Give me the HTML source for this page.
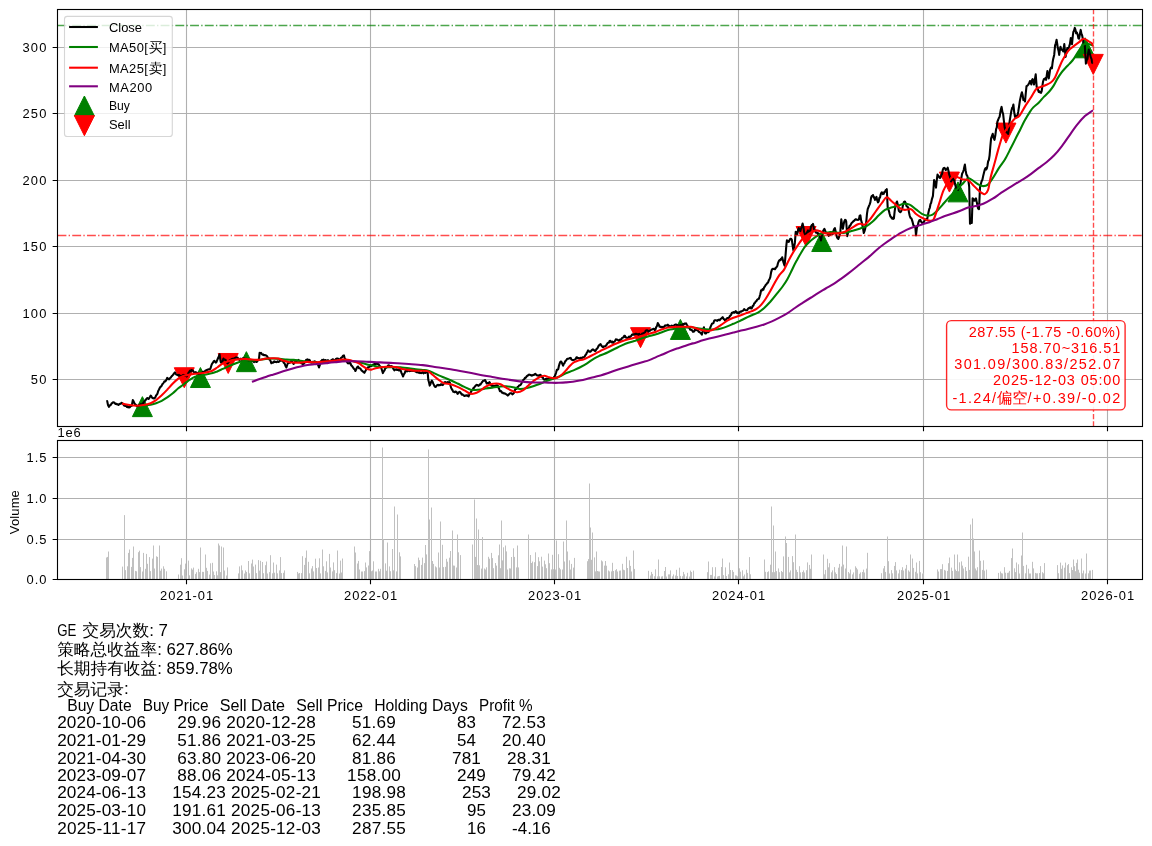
<!DOCTYPE html>
<html lang="zh"><head><meta charset="utf-8"><title>GE</title><style>html,body{margin:0;padding:0;background:#fff}svg{display:block}svg text{font-family:"Liberation Sans","WenQuanYi Zen Hei",sans-serif;white-space:pre}</style></head><body>
<svg width="1152" height="846" viewBox="0 0 1152 846">
<rect width="1152" height="846" fill="#fff"/>
<clipPath id="c1"><rect x="57.5" y="9.5" width="1085.0" height="417.0"/></clipPath>
<clipPath id="c2"><rect x="57.5" y="440.5" width="1085.0" height="139.0"/></clipPath>
<path d="M186.50 9.5V426.5M370.50 9.5V426.5M554.50 9.5V426.5M738.50 9.5V426.5M923.50 9.5V426.5M1107.50 9.5V426.5M57.5 379.50H1142.5M57.5 313.50H1142.5M57.5 246.50H1142.5M57.5 180.50H1142.5M57.5 113.50H1142.5M57.5 47.50H1142.5" stroke="#b0b0b0" stroke-width="1.11" fill="none"/>
<g clip-path="url(#c1)">
<path d="M142.39 396.63L132.39 416.63L152.39 416.63ZM200.43 367.53L190.43 387.53L210.43 387.53ZM246.36 351.67L236.36 371.67L256.36 371.67ZM680.40 319.43L670.40 339.43L690.40 339.43ZM821.72 231.52L811.72 251.52L831.72 251.52ZM957.99 181.86L947.99 201.86L967.99 201.86ZM1085.17 37.80L1075.17 57.80L1095.17 57.80Z" fill="#008000" stroke="#008000" stroke-width="1"/>
<path d="M184.28 387.75L174.28 367.75L194.28 367.75ZM228.19 373.47L218.19 353.47L238.19 353.47ZM640.53 347.67L630.53 327.67L650.53 327.67ZM806.07 246.51L796.07 226.51L816.07 226.51ZM949.41 192.07L939.41 172.07L959.41 172.07ZM1005.93 143.08L995.93 123.08L1015.93 123.08ZM1093.25 74.39L1083.25 54.39L1103.25 54.39Z" fill="#ff0000" stroke="#ff0000" stroke-width="1"/>
<path d="M106.4 401.5L107.2 401.1L108.0 405.0L108.9 406.8L109.6 405.8L110.3 404.9L111.0 404.7L111.7 403.2L112.4 403.0L113.1 402.2L113.8 402.5L114.4 402.6L115.1 403.6L115.8 404.0L116.5 403.7L117.2 404.4L117.9 404.3L118.6 405.0L119.3 404.0L120.0 403.9L120.7 403.8L121.4 402.9L122.1 403.0L122.8 403.7L123.5 404.7L124.2 405.6L124.9 405.7L125.6 406.0L126.3 406.1L127.0 407.0L127.6 406.2L128.3 407.4L129.0 407.0L129.7 407.5L130.4 406.5L131.1 405.9L131.8 405.7L132.8 400.1L133.7 401.6L134.6 403.6L135.3 404.8L136.0 404.9L136.7 406.1L137.4 406.0L138.1 405.8L138.8 405.3L139.4 405.3L140.1 404.5L140.8 404.2L141.5 404.2L142.2 404.3L142.9 403.6L143.6 402.5L144.3 401.5L145.0 400.8L145.7 400.0L146.4 398.9L147.1 398.1L147.8 398.3L148.5 399.0L149.2 398.2L149.9 397.0L150.6 395.7L151.3 396.2L151.9 397.4L152.6 398.1L153.3 398.1L154.0 398.5L154.7 398.1L155.4 397.2L156.1 395.5L156.8 394.6L157.5 393.6L158.2 390.9L158.9 389.7L159.6 388.2L160.3 386.9L161.0 386.6L161.7 385.6L162.4 384.1L163.1 383.5L163.8 382.5L164.5 381.3L165.1 381.5L165.8 380.7L166.5 379.6L167.2 377.9L167.9 378.5L168.6 379.3L169.3 379.3L170.0 378.1L170.7 377.7L171.4 376.5L172.1 375.9L172.8 375.1L173.5 374.3L174.2 373.2L174.9 372.4L175.6 373.6L176.2 374.5L176.9 374.7L177.6 374.9L178.3 375.5L179.0 374.9L179.7 375.8L180.4 376.0L181.1 375.8L181.8 376.1L182.5 375.8L183.2 374.9L183.9 375.1L184.6 375.3L185.3 376.0L186.0 375.5L186.7 376.5L187.4 375.2L188.1 373.7L188.7 372.4L189.4 371.7L190.1 370.7L190.8 371.4L191.5 370.1L192.2 370.3L192.9 370.7L193.6 371.6L194.3 372.4L195.0 373.0L195.7 372.1L196.4 372.7L197.1 372.9L197.8 373.0L198.5 373.9L199.2 374.1L199.9 374.5L200.6 374.4L201.3 373.4L201.9 372.9L202.6 372.2L203.3 371.7L204.0 372.0L204.7 371.8L205.4 370.5L206.1 370.7L206.8 370.0L207.5 369.7L208.2 369.4L208.9 369.5L209.6 369.3L210.3 368.9L211.0 366.7L211.7 364.5L212.4 363.3L213.1 362.4L213.7 361.4L214.4 360.8L215.1 361.8L215.8 362.6L216.5 361.9L217.2 360.1L217.9 358.5L218.8 356.4L219.6 354.3L220.1 358.3L220.7 361.9L221.4 362.9L222.1 363.3L222.8 360.3L223.5 358.5L224.2 359.5L224.9 359.8L225.6 359.9L226.3 361.6L226.9 362.6L227.6 363.3L228.3 362.3L229.0 361.5L229.7 360.2L230.4 359.9L231.1 359.9L231.8 358.9L232.5 358.7L233.2 358.7L233.9 358.9L234.6 358.1L235.3 358.1L236.0 357.4L236.7 357.8L237.4 357.6L238.1 358.3L238.7 358.8L239.4 359.9L240.1 359.5L240.8 358.7L241.5 359.7L242.2 359.1L242.9 358.2L243.6 358.5L244.3 358.4L245.0 358.7L245.7 359.0L246.4 358.9L247.1 360.2L247.8 359.9L248.5 360.8L249.2 360.3L249.9 360.6L250.5 360.2L251.2 360.5L251.9 361.3L252.6 361.2L253.3 361.2L254.0 362.1L254.7 361.2L255.4 361.1L256.1 361.9L256.8 362.0L257.5 360.9L258.2 359.9L258.9 359.9L259.6 352.9L260.3 353.2L261.0 352.8L261.7 353.8L262.4 354.7L263.1 354.3L263.8 355.2L264.5 355.3L265.1 355.0L265.8 355.5L266.5 355.6L267.2 356.4L267.9 357.7L268.6 358.2L269.3 359.4L270.0 359.9L270.7 361.4L271.4 363.3L272.1 362.4L272.8 362.7L273.5 362.5L274.2 361.3L274.9 361.9L275.6 361.9L276.2 362.1L276.9 362.0L277.6 361.4L278.3 361.9L279.0 361.7L279.7 361.2L280.4 360.4L281.1 360.2L281.8 360.6L282.5 361.0L283.2 361.6L283.9 362.9L284.6 363.3L285.5 366.0L286.4 367.5L287.2 365.0L288.1 362.6L288.8 363.0L289.5 362.8L290.1 362.5L290.8 361.4L291.5 361.3L292.2 361.8L292.9 362.7L293.6 364.0L294.3 362.7L295.0 361.9L295.7 361.6L296.4 360.6L297.1 360.9L297.8 360.6L298.5 359.9L299.2 360.8L299.9 361.9L300.6 362.6L301.3 363.4L302.0 362.7L302.6 363.9L303.3 364.0L304.0 363.6L304.7 362.4L305.4 361.3L306.1 359.9L306.8 359.9L307.5 359.4L308.2 360.3L308.9 359.7L309.6 359.9L310.3 361.2L311.0 362.4L311.7 362.6L312.4 362.1L313.0 361.8L313.7 362.3L314.4 361.3L315.1 362.1L315.8 361.8L316.5 362.3L317.2 363.3L318.1 364.9L319.0 367.5L319.9 365.0L320.7 361.3L321.4 361.3L322.1 359.9L322.8 360.5L323.5 359.6L324.2 360.5L324.9 360.2L325.5 360.0L326.2 360.5L326.9 360.6L327.6 360.2L328.3 360.3L329.0 361.8L329.7 361.3L330.4 361.0L331.1 360.4L331.8 360.5L332.5 359.4L333.2 359.4L333.9 360.2L334.6 360.2L335.3 359.9L336.0 359.0L336.7 358.6L337.4 358.5L338.1 358.7L338.7 359.1L339.4 359.9L340.1 359.3L340.8 358.2L341.5 357.7L342.2 357.1L343.0 355.7L343.9 355.4L344.6 357.9L345.3 359.2L346.1 360.4L347.0 361.9L347.8 363.3L348.5 363.2L349.2 363.4L349.9 362.6L350.6 363.5L351.2 365.3L351.9 365.8L352.6 366.8L353.3 367.9L354.0 368.9L354.7 369.3L355.4 371.0L356.1 369.5L356.8 367.8L357.5 366.8L358.2 366.6L358.9 368.1L359.6 368.2L360.3 368.4L361.0 369.6L361.7 370.6L362.4 371.0L363.1 371.7L363.7 372.0L364.4 372.8L365.1 371.5L365.8 370.3L366.5 368.9L367.2 368.8L367.9 367.3L368.6 367.4L369.3 366.8L370.0 366.1L370.7 365.8L371.4 366.1L372.1 365.4L372.8 364.9L373.5 364.4L374.2 364.2L374.9 363.3L375.6 364.0L376.3 363.5L376.9 363.9L377.6 363.9L378.3 364.0L379.0 364.9L379.7 366.0L380.4 366.6L381.1 367.5L382.0 370.3L382.9 373.1L383.7 371.4L384.5 370.4L385.3 368.2L386.0 367.8L386.7 367.3L387.4 366.7L388.1 365.4L388.8 365.2L389.5 365.8L390.1 366.4L390.8 366.4L391.5 366.1L392.2 366.6L392.9 367.7L393.6 369.2L394.3 370.3L395.0 369.6L395.7 369.7L396.4 369.3L397.1 370.0L397.8 369.6L398.5 370.2L399.2 370.5L399.9 369.7L400.6 370.3L401.4 372.7L402.3 374.6L403.1 376.5L403.9 374.2L404.6 373.4L405.4 371.0L406.1 371.5L406.8 370.4L407.5 371.3L408.2 370.5L408.9 370.5L409.6 371.1L410.3 370.3L411.0 370.9L411.7 370.2L412.4 370.7L413.1 371.0L413.7 371.0L414.4 370.9L415.1 371.3L415.8 371.7L416.5 372.2L417.2 371.5L417.9 372.5L418.6 372.6L419.3 372.2L420.0 373.1L420.7 372.8L421.4 373.1L422.1 372.8L422.8 372.1L423.5 373.3L424.2 372.9L424.9 372.4L425.6 372.9L426.2 371.5L426.9 371.6L427.6 371.7L428.3 380.0L429.0 382.2L429.7 385.6L430.4 384.3L431.1 382.0L431.8 380.7L432.5 381.6L433.2 383.4L433.9 384.9L434.6 386.4L435.3 386.9L436.0 386.8L436.7 385.6L437.4 385.0L438.1 384.9L438.8 385.4L439.5 385.0L440.2 385.2L440.8 384.4L441.5 384.3L442.2 385.1L442.9 384.9L443.6 383.9L444.3 382.5L445.0 382.1L445.7 382.8L446.4 382.5L447.1 382.8L447.8 382.0L448.5 383.1L449.2 382.1L449.9 382.8L450.6 386.0L451.3 388.3L452.0 389.4L452.6 390.4L453.3 391.8L454.0 391.9L454.7 392.3L455.4 391.5L456.1 391.8L456.8 392.4L457.5 393.9L458.2 393.2L458.9 392.2L459.6 391.8L460.3 392.3L461.0 393.3L461.7 394.6L462.4 394.4L463.0 394.9L463.7 395.4L464.4 396.0L465.1 395.5L465.8 395.8L466.5 395.3L467.2 395.4L467.9 396.0L468.6 396.4L469.3 394.7L470.0 393.6L470.7 392.5L471.4 391.0L472.1 390.3L472.8 389.7L473.5 388.0L474.2 387.7L474.9 386.3L475.6 385.9L476.2 385.0L476.9 384.9L477.6 385.1L478.3 385.9L479.0 385.6L479.7 384.4L480.4 384.6L481.1 383.5L481.8 382.5L482.5 381.6L483.2 380.7L484.1 380.8L485.0 380.0L485.9 381.6L486.7 383.5L487.4 383.2L488.0 383.0L488.7 383.1L489.4 382.1L490.1 383.1L490.8 384.9L491.5 385.6L492.2 386.0L492.9 386.1L493.6 386.0L494.3 386.3L495.0 386.0L495.7 385.5L496.4 385.4L497.1 385.2L497.8 385.6L498.5 387.7L499.2 389.0L499.9 391.1L500.6 391.0L501.2 391.3L501.9 392.6L502.6 392.5L503.3 393.3L504.0 393.4L504.7 393.3L505.4 393.9L506.2 394.2L507.0 394.8L507.8 395.6L508.6 394.8L509.5 393.6L510.3 393.2L511.0 393.3L511.7 393.3L512.4 394.3L513.1 393.9L513.8 393.1L514.4 391.2L515.1 389.7L515.8 388.7L516.5 388.9L517.2 387.4L517.9 386.9L518.6 386.2L519.3 385.3L520.0 385.2L520.7 384.9L521.4 383.5L522.1 382.1L522.8 380.7L523.5 379.6L524.2 379.3L524.9 377.9L525.6 377.9L526.3 376.9L527.0 376.0L527.6 375.7L528.3 375.1L529.0 374.6L529.7 374.7L530.4 375.1L531.1 375.1L531.8 375.6L532.5 375.4L533.2 374.9L533.9 374.9L534.6 374.4L535.3 373.8L536.0 374.6L536.7 375.3L537.4 375.2L538.1 375.8L538.8 375.4L539.5 376.1L540.1 374.8L540.8 375.1L541.5 376.4L542.2 377.4L542.9 377.6L543.6 379.3L544.3 379.6L545.0 379.5L545.7 378.9L546.4 378.6L547.1 379.0L547.8 379.2L548.5 378.4L549.2 378.9L549.9 378.8L550.6 378.7L551.2 379.0L551.9 378.8L552.6 378.7L553.3 378.2L554.0 377.1L554.7 376.4L555.4 374.7L556.1 372.5L556.8 369.9L557.5 369.8L558.2 369.2L558.9 366.0L559.6 363.6L560.3 361.9L561.0 361.5L561.7 362.4L562.4 364.1L563.1 365.7L563.8 363.7L564.4 363.4L565.1 361.5L565.8 360.7L566.5 359.9L567.2 358.8L567.9 358.8L568.6 358.7L569.3 358.3L570.0 358.1L570.7 357.9L571.4 359.5L572.1 360.0L572.8 360.1L573.5 359.9L574.2 359.7L574.9 359.4L575.7 359.0L576.4 357.4L577.2 357.4L578.0 358.2L578.9 358.0L579.7 358.8L580.4 357.9L581.1 357.9L581.8 358.3L582.5 357.3L583.2 357.4L583.9 357.1L584.6 356.7L585.3 355.3L586.0 354.6L586.7 353.0L587.4 351.8L588.1 350.4L588.8 351.1L589.4 351.7L590.1 351.8L590.8 351.3L591.5 350.6L592.2 349.7L592.9 349.4L593.6 349.9L594.3 350.4L595.0 351.1L595.7 350.6L596.4 349.1L597.1 348.6L597.8 347.6L598.5 346.0L599.2 345.2L599.9 344.7L600.6 344.2L601.3 345.4L601.9 346.3L602.6 346.9L603.3 347.0L604.0 346.3L604.7 346.5L605.4 346.3L606.1 345.4L606.8 344.5L607.5 343.1L608.2 342.8L608.9 342.7L609.6 340.9L610.3 340.7L611.0 342.0L611.7 342.4L612.4 341.5L613.1 342.8L613.8 341.9L614.5 341.6L615.1 340.9L615.8 339.3L616.5 339.6L617.2 339.6L617.9 339.9L618.6 340.7L619.3 341.1L620.0 339.5L620.7 339.8L621.4 339.3L622.1 337.9L622.8 337.6L623.5 337.4L624.2 335.8L624.9 335.7L625.5 337.4L626.2 337.4L626.9 337.9L627.6 338.2L628.3 337.7L629.0 336.6L629.7 337.4L630.4 336.5L631.1 336.1L631.8 334.9L632.5 334.4L633.2 334.8L633.9 334.4L634.6 334.3L635.3 334.0L636.0 333.7L636.7 334.0L637.4 334.2L638.1 334.1L638.8 335.1L639.4 333.9L640.1 335.3L640.8 335.1L641.5 335.1L642.2 333.5L642.9 334.3L643.6 333.1L644.3 332.7L645.0 332.4L645.7 330.7L646.4 330.3L647.1 330.3L647.8 330.5L648.5 331.6L649.2 331.0L649.9 330.8L650.5 330.1L651.2 329.8L651.9 329.6L652.6 329.2L653.3 328.9L654.0 328.9L654.7 330.1L655.4 329.6L656.2 327.1L657.0 326.0L657.8 323.1L658.7 324.5L659.6 326.8L660.3 326.6L661.0 327.2L661.7 326.8L662.4 327.5L663.1 326.8L663.8 327.2L664.4 326.6L665.1 325.4L665.8 325.7L666.5 325.3L667.2 325.6L667.9 324.7L668.6 326.0L669.3 325.8L670.0 326.6L670.7 326.8L671.4 325.7L672.1 326.5L672.8 325.7L673.5 325.8L674.2 325.3L674.9 324.7L675.6 324.6L676.3 324.5L676.9 326.3L677.6 325.2L678.3 326.1L679.0 325.8L679.7 325.4L680.4 325.1L681.1 325.6L681.8 325.7L682.5 324.7L683.2 324.0L683.9 324.4L684.6 323.5L685.3 323.7L686.0 323.3L686.7 324.5L687.4 325.5L688.1 327.5L688.8 327.5L689.5 328.1L690.1 329.7L690.8 329.6L691.5 330.1L692.2 330.2L692.9 331.8L693.6 331.7L694.3 331.4L695.0 329.5L695.8 329.9L696.5 329.8L697.3 330.4L698.0 330.7L698.8 331.8L699.6 332.2L700.3 332.5L701.1 333.5L701.9 334.6L702.6 331.7L703.2 329.8L703.9 327.2L704.5 330.9L705.0 333.4L705.8 333.5L706.5 332.6L707.3 332.3L708.0 332.2L708.8 331.8L709.6 329.6L710.3 327.5L711.1 325.7L711.9 323.9L712.7 323.2L713.4 323.3L714.2 320.7L715.0 320.3L715.8 320.3L716.5 320.5L717.3 320.9L718.1 319.8L718.8 319.9L719.6 320.3L720.4 319.1L721.2 318.6L721.9 317.9L722.7 317.2L723.5 318.8L724.2 319.3L725.0 320.2L725.7 320.3L726.5 318.7L727.3 318.0L728.0 318.4L728.8 317.9L729.6 316.5L730.4 315.5L731.2 314.7L731.9 312.7L732.7 312.6L733.5 312.0L734.2 312.6L735.0 312.0L735.7 311.1L736.5 312.3L737.2 313.1L738.0 312.4L738.8 313.4L739.6 312.1L740.3 311.6L741.1 311.7L741.9 311.1L742.7 310.8L743.4 310.6L744.2 309.1L745.0 309.9L745.7 310.2L746.5 310.3L747.3 310.0L748.0 308.7L748.8 308.0L749.6 308.1L750.3 307.2L751.1 308.5L751.9 308.0L752.7 306.0L753.4 305.7L754.2 303.4L755.0 302.9L755.7 301.5L756.5 301.1L757.3 299.6L758.0 299.1L758.8 298.8L759.5 296.8L760.3 294.2L761.1 290.3L761.9 290.4L762.6 289.1L763.4 289.6L764.2 287.2L764.9 286.5L765.7 284.9L766.5 284.3L767.2 283.1L768.0 282.6L768.8 280.3L769.5 279.2L770.3 277.2L771.1 272.4L771.9 269.6L772.7 268.9L773.4 269.0L774.2 268.8L775.0 269.2L775.7 268.1L776.5 267.3L777.3 266.0L778.0 263.1L778.8 261.1L779.5 260.1L780.3 260.3L780.9 258.8L781.6 259.3L782.2 257.3L783.1 261.1L783.9 263.8L784.6 265.7L785.2 259.1L785.7 253.4L786.3 245.9L786.9 240.4L787.5 240.9L788.2 241.8L788.8 241.9L789.5 240.2L790.3 238.8L791.0 238.7L791.8 239.6L792.6 245.4L793.4 250.4L794.1 247.5L794.9 242.7L795.7 231.9L796.5 232.4L797.2 234.2L798.0 230.1L798.8 228.1L799.5 229.2L800.3 231.1L801.1 228.4L801.8 226.5L802.6 223.5L803.4 227.0L804.1 231.9L804.9 234.1L805.7 235.0L806.5 234.0L807.2 231.9L808.0 230.4L808.8 231.2L809.5 233.4L810.2 231.0L811.0 226.5L811.7 225.2L812.3 225.5L813.0 223.9L813.5 226.1L814.1 229.6L814.9 230.0L815.6 232.3L816.4 232.7L817.2 232.5L817.9 234.2L818.7 233.4L819.5 235.7L820.2 237.4L821.0 240.4L821.8 235.5L822.6 231.9L823.5 230.2L824.4 228.8L825.1 230.5L825.7 232.4L826.4 232.7L827.2 232.9L827.9 234.5L828.7 235.8L829.5 234.1L830.2 234.8L831.0 232.7L831.8 232.6L832.6 234.2L833.4 231.1L834.1 229.1L834.9 228.1L835.6 231.3L836.4 235.0L837.0 237.2L837.7 238.4L838.3 238.8L839.0 237.0L839.6 235.3L840.3 231.9L841.3 219.3L842.1 225.1L842.9 228.8L843.6 224.6L844.4 221.1L845.0 219.9L845.6 220.0L846.2 221.5L846.8 229.8L847.3 236.1L848.0 232.8L848.8 228.4L849.6 225.8L850.3 225.7L851.1 223.8L851.9 222.7L852.7 222.0L853.4 221.1L854.2 220.7L855.0 219.8L855.8 219.2L856.5 219.7L857.3 219.7L858.1 219.9L858.9 219.5L859.6 215.9L860.4 215.3L861.1 220.3L861.9 223.0L862.5 225.7L863.2 229.3L863.8 233.0L864.4 231.4L865.1 229.1L865.7 226.1L866.4 220.3L867.0 213.7L867.7 209.2L868.3 207.6L869.0 205.8L869.6 204.6L870.4 202.1L871.1 197.6L871.7 196.0L872.4 195.5L873.0 195.0L873.7 197.6L874.3 197.1L875.0 199.9L875.8 198.2L876.5 196.9L877.2 200.4L878.0 202.3L878.7 201.4L879.3 198.0L880.0 197.6L880.6 194.7L881.3 193.0L881.9 192.3L882.8 194.1L883.7 193.8L884.4 191.9L885.0 191.9L885.7 190.0L886.2 190.6L886.8 189.2L887.7 207.6L888.3 209.3L889.0 211.2L889.6 213.8L890.4 216.4L891.1 217.1L891.9 218.4L892.6 217.8L893.2 218.9L893.9 218.4L894.6 211.8L895.4 206.1L896.2 203.2L897.0 201.5L897.9 204.9L898.8 210.7L899.6 211.6L900.3 212.2L901.1 211.5L901.8 209.5L902.4 208.0L903.1 204.6L904.0 201.9L904.9 201.5L905.7 203.1L906.5 206.1L907.4 206.8L908.3 207.6L909.0 212.6L909.6 215.3L910.5 217.9L911.4 218.4L912.1 220.4L912.7 222.4L913.4 225.3L914.1 225.9L914.7 226.8L915.4 227.6L916.0 235.3L916.9 227.6L917.7 225.9L918.5 222.2L919.4 220.3L920.3 219.9L921.1 221.6L921.8 222.5L922.6 223.0L923.4 222.7L924.1 221.6L924.9 219.9L925.7 219.9L926.4 219.0L927.2 219.2L927.9 215.4L928.5 212.2L929.2 209.2L929.8 207.8L930.5 204.0L931.1 203.0L932.0 198.8L932.9 196.1L933.5 188.7L934.1 180.0L934.7 181.9L935.4 183.9L936.0 187.6L936.8 179.9L937.5 174.6L938.2 175.8L938.8 176.2L939.5 177.7L940.2 177.9L940.8 176.7L941.5 174.6L942.1 173.8L942.8 169.8L943.4 168.4L944.2 167.8L944.9 168.4L945.7 170.0L946.4 169.2L947.0 169.0L947.7 167.7L948.5 171.0L949.2 174.6L949.8 176.2L950.5 179.0L951.1 181.5L951.9 179.9L952.6 177.7L953.5 179.7L954.4 180.7L955.2 184.8L956.0 187.6L956.7 189.3L957.3 189.6L958.0 190.0L958.8 187.2L959.5 187.3L960.3 184.6L961.2 178.7L962.1 173.8L962.9 172.1L963.7 170.0L964.3 167.0L964.9 164.6L965.6 170.2L966.4 174.6L967.2 175.7L968.0 178.4L968.6 182.0L969.2 186.9L970.0 223.8L970.9 222.8L971.8 223.0L972.6 198.4L973.5 198.7L974.4 200.7L975.2 200.5L976.0 198.4L976.7 201.9L977.3 204.6L978.0 208.4L979.0 209.2L980.0 187.6L980.8 184.3L981.5 181.5L982.4 179.8L983.3 175.4L984.1 172.3L984.9 169.2L985.5 168.2L986.2 169.5L986.8 168.4L987.5 165.4L988.1 161.5L988.9 159.8L989.6 155.3L990.4 145.7L991.1 138.4L991.9 136.0L992.7 133.8L993.6 137.8L994.5 139.9L995.3 135.6L996.1 129.2L996.8 127.4L997.4 121.7L998.1 120.0L998.9 117.8L999.6 116.9L1000.3 112.4L1000.9 109.3L1001.6 106.9L1002.4 111.8L1003.1 113.8L1003.9 121.0L1004.7 127.6L1005.6 131.2L1006.5 132.3L1007.3 132.7L1008.1 133.8L1008.9 128.7L1009.6 121.5L1010.5 115.9L1011.4 110.7L1012.1 107.9L1012.7 107.5L1013.4 104.6L1014.2 112.1L1015.0 116.9L1015.8 115.7L1016.5 117.2L1017.3 116.9L1018.2 111.9L1019.1 106.1L1019.9 100.6L1020.7 96.9L1021.3 94.2L1021.9 92.3L1022.6 95.0L1023.4 100.0L1024.2 99.8L1025.0 101.5L1025.8 93.0L1026.5 86.1L1027.4 85.7L1028.3 84.6L1029.1 83.3L1029.9 81.1L1030.6 81.8L1031.3 84.5L1031.9 80.2L1032.6 79.1L1033.3 81.2L1034.0 84.5L1034.8 80.0L1035.7 74.4L1036.7 87.2L1037.4 87.7L1038.0 89.7L1038.7 91.9L1039.5 91.3L1040.3 92.6L1041.0 92.9L1041.7 91.2L1042.3 86.7L1043.0 81.8L1043.9 79.0L1044.8 79.1L1045.4 78.1L1046.1 79.8L1046.8 75.1L1047.4 71.0L1048.1 74.9L1048.8 78.4L1049.4 74.5L1050.1 69.7L1051.0 67.6L1051.9 68.3L1052.6 62.5L1053.2 58.9L1054.2 54.9L1055.1 45.4L1055.8 43.3L1056.6 39.8L1057.2 43.6L1057.8 48.1L1058.5 50.7L1059.2 54.9L1059.8 50.2L1060.5 46.8L1061.2 49.7L1061.9 49.5L1062.6 49.8L1063.2 51.5L1063.8 48.0L1064.3 44.1L1064.9 50.0L1065.6 56.9L1066.4 52.2L1067.3 48.1L1068.2 48.7L1069.0 46.8L1069.9 44.2L1070.8 38.0L1071.4 40.6L1072.0 44.1L1072.7 37.0L1073.3 32.0L1074.0 30.8L1074.8 27.9L1075.4 29.5L1076.1 33.3L1076.9 32.5L1077.8 35.3L1078.4 38.4L1079.1 38.7L1079.9 34.0L1080.7 29.9L1081.4 33.8L1082.1 35.3L1082.8 38.7L1083.4 42.7L1084.1 45.4L1084.8 45.4L1085.3 54.4L1085.9 63.6L1086.7 60.1L1087.5 58.9L1088.2 52.5L1088.8 49.5L1089.5 52.4L1090.2 54.9L1090.8 57.4L1091.5 58.9L1092.2 62.7L1092.9 63.6" stroke="#000" fill="none" stroke-width="2.08" stroke-linejoin="round" stroke-linecap="butt"/>
<path d="M142.9 405.7C144.2 405.5 148.4 405.1 150.6 404.7C152.8 404.3 154.2 403.8 156.1 403.2C157.9 402.6 159.8 401.8 161.7 400.8C163.5 399.8 165.3 398.7 167.2 397.4C169.0 396.1 171.0 394.7 172.8 393.2C174.7 391.7 176.5 389.8 178.3 388.3C180.2 386.8 182.1 385.6 183.9 384.2C185.8 382.8 187.6 381.2 189.4 380.0C191.2 378.8 193.1 377.5 195.0 376.8C196.9 376.1 198.8 376.0 200.6 375.6C202.4 375.2 204.2 374.8 206.1 374.4C207.9 374.0 209.8 373.8 211.7 373.3C213.5 372.8 215.3 372.1 217.2 371.4C219.0 370.7 221.0 369.7 222.8 368.9C224.7 368.1 226.5 367.2 228.3 366.4C230.2 365.6 232.1 364.8 233.9 364.0C235.8 363.2 237.6 362.4 239.4 361.9C241.2 361.4 242.9 361.0 245.0 360.8C247.1 360.6 249.6 360.8 251.9 360.6C254.2 360.5 256.6 360.2 258.9 359.9C261.2 359.6 263.5 359.1 265.8 358.9C268.1 358.7 270.5 358.5 272.8 358.5C275.1 358.5 277.4 358.7 279.7 358.9C282.0 359.1 284.4 359.4 286.7 359.6C289.0 359.8 291.3 359.7 293.6 359.9C295.9 360.1 298.3 360.5 300.6 360.8C302.9 361.1 305.2 361.6 307.5 361.9C309.8 362.2 312.1 362.3 314.4 362.4C316.7 362.5 319.1 362.5 321.4 362.4C323.7 362.3 326.0 362.1 328.3 361.9C330.6 361.7 333.0 361.5 335.3 361.3C337.6 361.1 339.9 360.9 342.2 360.8C344.5 360.7 346.9 360.7 349.2 360.8C351.5 360.9 353.8 361.3 356.1 361.7C358.4 362.1 360.8 362.7 363.1 363.3C365.4 363.9 367.7 364.6 370.0 365.1C372.3 365.6 374.6 366.0 376.9 366.4C379.2 366.8 381.6 367.1 383.9 367.2C386.2 367.3 388.5 367.2 390.8 367.2C393.1 367.2 396.0 367.1 397.8 367.2C399.6 367.2 400.0 367.3 401.9 367.5C403.8 367.7 406.6 367.9 408.9 368.2C411.2 368.5 413.5 369.0 415.8 369.3C418.1 369.6 420.7 369.8 422.8 370.0C424.9 370.2 426.5 370.2 428.3 370.7C430.1 371.2 432.0 372.3 433.9 373.1C435.8 373.9 437.5 374.8 439.4 375.6C441.2 376.4 443.1 377.1 445.0 377.9C446.9 378.7 448.5 379.4 450.6 380.3C452.7 381.2 455.2 382.4 457.5 383.5C459.8 384.6 462.2 385.9 464.4 386.9C466.6 387.9 468.4 389.2 470.7 389.7C473.0 390.2 475.9 389.9 478.3 389.7C480.7 389.5 483.0 389.0 485.3 388.6C487.6 388.2 489.9 387.9 492.2 387.6C494.5 387.3 496.9 386.9 499.2 386.7C501.5 386.5 503.8 386.2 506.1 386.3C508.4 386.4 510.8 386.8 513.1 387.2C515.4 387.6 517.7 388.9 520.0 389.0C522.3 389.1 524.6 388.6 526.9 388.1C529.2 387.6 531.6 386.8 533.9 386.0C536.2 385.2 538.9 384.2 540.8 383.5C542.6 382.8 543.6 382.1 545.0 381.5C546.4 380.9 547.7 380.5 549.2 380.0C550.7 379.5 552.4 379.1 554.0 378.6C555.6 378.1 556.9 377.7 558.9 376.8C560.9 375.9 563.5 374.3 565.8 373.3C568.1 372.3 570.5 371.6 572.8 370.6C575.1 369.6 577.4 368.7 579.7 367.5C582.0 366.3 584.4 365.1 586.7 363.6C589.0 362.2 591.3 360.2 593.6 358.8C595.9 357.4 598.3 356.4 600.6 355.3C602.9 354.2 605.2 353.6 607.5 352.5C609.8 351.4 612.1 350.1 614.4 349.0C616.7 347.9 619.1 346.6 621.4 345.6C623.7 344.6 626.0 343.6 628.3 342.8C630.6 342.0 633.0 341.4 635.3 340.7C637.6 339.9 639.9 339.1 642.2 338.3C644.5 337.5 646.9 336.8 649.2 336.1C651.5 335.4 653.8 334.9 656.1 334.2C658.4 333.5 660.8 332.5 663.1 331.7C665.4 330.9 667.7 330.1 670.0 329.6C672.3 329.1 674.6 328.9 676.9 328.6C679.2 328.3 681.6 328.0 683.9 327.8C686.2 327.6 688.9 327.2 690.8 327.2C692.6 327.2 693.3 327.6 695.0 327.8C696.7 328.1 698.8 328.4 701.1 328.7C703.4 329.0 706.5 329.4 708.8 329.5C711.1 329.6 713.0 329.7 715.0 329.5C717.0 329.3 719.1 328.9 721.1 328.4C723.1 327.9 725.2 327.2 727.3 326.4C729.3 325.6 731.3 324.7 733.4 323.8C735.5 322.9 737.5 322.1 739.6 321.1C741.7 320.1 743.7 319.0 745.7 318.0C747.8 317.0 749.9 316.1 751.9 315.2C753.9 314.3 756.0 313.8 758.0 312.6C760.0 311.4 762.2 309.8 764.2 308.0C766.2 306.2 768.2 304.1 770.3 301.8C772.3 299.5 774.5 296.8 776.5 294.2C778.5 291.6 780.8 288.9 782.6 286.5C784.4 284.1 785.7 282.3 787.2 279.6C788.7 276.9 790.3 273.4 791.8 270.3C793.3 267.2 794.8 264.0 796.4 261.1C798.0 258.2 799.5 255.3 801.1 252.7C802.7 250.1 804.2 247.6 805.7 245.7C807.2 243.8 808.8 242.5 810.3 241.1C811.8 239.7 813.4 238.4 814.9 237.3C816.4 236.2 818.0 235.4 819.5 234.7C821.0 234.0 822.6 233.5 824.1 233.1C825.6 232.7 827.2 232.3 828.7 232.2C830.2 232.0 831.5 232.1 833.3 232.2C835.1 232.3 837.5 232.6 839.5 232.7C841.5 232.8 842.8 233.1 845.0 232.8C847.2 232.5 850.1 231.4 852.7 230.7C855.3 230.0 858.1 229.2 860.4 228.4C862.7 227.6 864.5 227.2 866.5 226.1C868.5 224.9 870.7 223.3 872.7 221.5C874.8 219.7 876.8 217.2 878.8 215.3C880.8 213.4 883.0 211.2 885.0 209.9C887.0 208.6 889.1 208.2 891.1 207.6C893.1 207.0 895.2 206.7 897.3 206.1C899.3 205.5 901.3 204.1 903.4 203.8C905.5 203.6 907.5 203.7 909.6 204.6C911.7 205.5 913.7 207.7 915.7 209.2C917.8 210.7 919.9 212.7 921.9 213.8C923.9 214.9 926.2 215.5 928.0 215.6C929.8 215.7 931.1 215.4 932.6 214.6C934.1 213.8 935.4 212.5 937.2 210.7C939.0 208.9 941.4 206.1 943.4 203.8C945.4 201.5 947.5 199.1 949.5 196.9C951.5 194.7 953.7 192.8 955.7 190.7C957.8 188.6 960.0 186.4 961.8 184.6C963.6 182.8 965.1 180.7 966.4 179.7C967.7 178.7 968.2 178.1 969.5 178.4C970.8 178.7 972.6 180.5 974.1 181.5C975.6 182.5 977.2 183.8 978.7 184.6C980.2 185.4 981.8 186.1 983.3 186.1C984.8 186.1 986.3 185.9 987.9 184.6C989.5 183.3 990.8 181.1 992.6 178.4C994.4 175.7 996.7 171.6 998.7 168.4C1000.8 165.2 1002.8 163.0 1004.9 159.5C1007.0 156.0 1009.3 151.1 1011.1 147.6C1012.9 144.1 1014.2 141.5 1015.7 138.4C1017.2 135.3 1018.9 132.3 1020.4 129.2C1021.9 126.1 1023.5 122.7 1025.0 120.0C1026.5 117.3 1027.9 114.9 1029.3 112.8C1030.7 110.7 1031.7 109.1 1033.3 107.4C1034.9 105.7 1036.9 104.5 1038.7 102.7C1040.5 100.9 1042.3 98.5 1044.1 96.6C1045.9 94.7 1047.9 93.0 1049.5 91.2C1051.1 89.4 1052.2 88.0 1053.5 85.9C1054.8 83.8 1056.2 80.7 1057.6 78.4C1058.9 76.2 1060.3 74.2 1061.6 72.4C1062.9 70.6 1064.2 69.2 1065.6 67.7C1066.9 66.2 1068.3 65.1 1069.7 63.6C1071.1 62.1 1072.4 60.8 1073.7 58.9C1075.0 57.0 1076.5 54.2 1077.8 52.2C1079.1 50.2 1080.7 48.1 1081.8 46.8C1082.9 45.4 1083.4 44.5 1084.5 44.1C1085.6 43.7 1087.2 43.8 1088.6 44.1C1090.0 44.4 1092.3 45.4 1093.0 45.7" stroke="#008000" fill="none" stroke-width="2.08" stroke-linejoin="round" stroke-linecap="butt"/>
<path d="M122.1 403.6C123.4 403.8 127.3 404.6 129.7 405.0C132.1 405.4 134.4 405.7 136.7 405.7C139.0 405.7 141.3 405.4 143.6 405.0C145.9 404.6 148.5 404.0 150.6 403.2C152.7 402.4 154.2 401.4 156.1 400.1C157.9 398.8 159.8 397.0 161.7 395.3C163.5 393.6 165.3 391.7 167.2 389.7C169.0 387.7 171.0 385.4 172.8 383.5C174.7 381.6 176.5 379.9 178.3 378.6C180.2 377.3 182.1 376.5 183.9 375.8C185.8 375.1 187.6 375.0 189.4 374.7C191.2 374.4 193.1 374.0 195.0 373.8C196.9 373.6 198.8 373.5 200.6 373.3C202.4 373.1 204.2 372.8 206.1 372.4C207.9 372.0 209.8 371.8 211.7 371.0C213.5 370.2 215.3 368.8 217.2 367.5C219.0 366.2 221.0 364.3 222.8 363.3C224.7 362.3 226.5 361.9 228.3 361.3C230.2 360.7 232.1 360.2 233.9 359.9C235.8 359.5 237.6 359.4 239.4 359.2C241.2 359.0 243.1 358.9 245.0 358.9C246.9 358.9 248.3 359.2 250.6 359.4C252.9 359.6 256.4 360.0 258.9 359.9C261.4 359.8 263.5 358.8 265.8 358.5C268.1 358.2 270.7 358.2 272.8 358.2C274.9 358.2 276.5 358.1 278.3 358.5C280.1 358.9 282.0 360.2 283.9 360.8C285.8 361.4 287.5 361.9 289.4 362.2C291.2 362.5 293.1 362.5 295.0 362.6C296.9 362.7 298.5 362.7 300.6 362.6C302.7 362.5 305.2 361.9 307.5 361.9C309.8 361.9 312.1 362.4 314.4 362.4C316.7 362.4 319.1 362.1 321.4 361.9C323.7 361.7 326.0 361.5 328.3 361.3C330.6 361.1 333.0 360.9 335.3 360.6C337.6 360.3 340.1 359.7 342.2 359.6C344.3 359.5 345.9 359.6 347.8 359.9C349.7 360.2 351.5 360.7 353.3 361.3C355.1 361.9 357.3 362.5 358.9 363.3C360.5 364.1 361.7 365.5 363.1 366.4C364.5 367.3 365.8 368.4 367.2 368.9C368.6 369.4 370.0 369.7 371.4 369.6C372.8 369.5 374.0 368.6 375.6 368.2C377.2 367.8 379.2 367.4 381.1 367.2C383.0 367.0 384.9 366.9 386.7 366.8C388.5 366.7 390.5 366.7 392.2 366.8C393.9 366.9 395.4 367.0 397.0 367.3C398.6 367.6 399.9 368.5 401.9 368.9C403.9 369.3 406.6 369.6 408.9 369.9C411.2 370.2 413.5 370.6 415.8 370.7C418.1 370.8 420.7 370.6 422.8 370.7C424.9 370.8 426.7 370.7 428.3 371.4C429.9 372.1 430.9 373.4 432.5 374.7C434.1 376.0 436.2 377.9 438.1 379.3C440.0 380.7 441.5 382.3 443.6 383.1C445.7 383.9 448.3 383.6 450.6 384.2C452.9 384.8 455.2 385.9 457.5 386.9C459.8 387.9 462.3 389.3 464.4 390.4C466.5 391.5 468.4 393.1 470.0 393.6C471.6 394.1 472.6 394.0 474.2 393.6C475.8 393.2 477.8 392.2 479.7 391.1C481.6 390.0 483.4 388.0 485.3 386.9C487.2 385.8 489.0 384.8 490.8 384.2C492.6 383.6 494.8 383.5 496.4 383.5C498.0 383.5 499.0 383.5 500.6 384.2C502.2 384.9 504.2 386.5 506.1 387.6C508.0 388.7 509.8 390.0 511.7 390.8C513.5 391.6 515.4 392.3 517.2 392.2C519.1 392.1 520.9 391.5 522.8 390.4C524.6 389.3 526.4 387.2 528.3 385.6C530.1 384.0 532.0 382.1 533.9 380.7C535.8 379.3 537.7 378.0 539.4 377.2C541.1 376.4 542.7 375.8 544.3 375.8C545.9 375.8 547.6 376.9 549.2 377.3C550.8 377.7 552.6 378.2 554.0 378.2C555.4 378.2 556.2 378.1 557.5 377.5C558.8 376.9 560.3 375.8 561.7 374.7C563.1 373.6 564.4 372.1 565.8 370.6C567.2 369.1 568.6 367.1 570.0 365.7C571.4 364.3 572.8 363.0 574.2 362.2C575.6 361.4 576.7 361.1 578.3 360.6C579.9 360.1 582.0 359.9 583.9 359.2C585.8 358.5 587.5 357.6 589.4 356.7C591.2 355.8 593.1 354.9 595.0 353.9C596.9 352.9 598.5 351.9 600.6 350.8C602.7 349.8 605.2 348.7 607.5 347.6C609.8 346.5 612.1 345.2 614.4 344.2C616.7 343.2 619.1 342.2 621.4 341.4C623.7 340.6 626.0 339.9 628.3 339.3C630.6 338.7 633.0 338.1 635.3 337.5C637.6 336.9 639.9 336.4 642.2 335.8C644.5 335.2 646.9 334.5 649.2 333.8C651.5 333.1 653.8 332.5 656.1 331.7C658.4 330.9 660.8 329.6 663.1 328.9C665.4 328.1 667.7 327.5 670.0 327.2C672.3 326.9 674.6 326.9 676.9 326.8C679.2 326.7 681.6 326.8 683.9 326.8C686.2 326.8 688.9 326.6 690.8 326.8C692.6 327.0 693.5 327.6 695.0 328.0C696.5 328.4 698.1 329.1 699.6 329.5C701.1 329.9 702.7 330.4 704.2 330.6C705.7 330.9 707.0 331.3 708.8 331.0C710.6 330.7 713.0 329.7 715.0 328.7C717.0 327.7 719.1 326.2 721.1 324.9C723.1 323.6 725.2 321.9 727.3 320.7C729.3 319.5 731.3 318.5 733.4 317.7C735.5 316.9 737.5 316.4 739.6 315.7C741.7 315.0 743.7 314.2 745.7 313.4C747.8 312.6 750.1 311.9 751.9 311.1C753.7 310.3 755.0 309.8 756.5 308.8C758.0 307.8 759.6 306.6 761.1 304.9C762.6 303.2 764.2 301.1 765.7 298.8C767.2 296.5 768.8 293.8 770.3 291.1C771.8 288.4 773.4 285.3 774.9 282.6C776.4 279.9 778.0 277.1 779.5 274.9C781.0 272.7 782.6 272.0 784.1 269.6C785.6 267.2 787.2 263.2 788.8 260.3C790.3 257.4 791.9 254.5 793.4 251.9C794.9 249.3 796.5 247.2 798.0 245.0C799.5 242.8 801.1 240.5 802.6 238.8C804.1 237.1 805.7 236.2 807.2 235.0C808.7 233.8 810.3 232.7 811.8 231.9C813.3 231.1 815.1 230.5 816.4 230.4C817.7 230.3 818.2 230.7 819.5 231.1C820.8 231.5 822.6 232.7 824.1 233.1C825.6 233.5 827.2 233.3 828.7 233.4C830.2 233.5 831.5 233.5 833.3 233.4C835.1 233.3 837.5 233.4 839.5 233.1C841.5 232.8 843.1 232.5 845.0 231.7C846.9 230.9 849.1 229.6 851.1 228.4C853.1 227.2 855.8 225.3 857.3 224.5C858.8 223.7 859.1 223.8 860.4 223.8C861.7 223.8 863.5 225.2 865.0 224.5C866.5 223.8 867.8 222.1 869.6 219.9C871.4 217.7 873.7 214.3 875.7 211.5C877.8 208.7 880.1 205.4 881.9 203.0C883.7 200.6 885.0 197.7 886.5 197.3C888.0 196.9 889.6 199.5 891.1 200.7C892.6 201.9 894.2 203.3 895.7 204.6C897.2 205.9 898.8 207.5 900.3 208.4C901.8 209.3 903.1 209.8 904.9 209.9C906.7 210.0 909.3 208.5 911.1 209.2C912.9 209.8 914.2 212.5 915.7 213.8C917.2 215.1 918.5 215.9 920.3 216.9C922.1 217.9 924.7 219.3 926.5 219.9C928.3 220.5 929.8 220.9 931.1 220.7C932.4 220.4 932.8 221.1 934.1 218.4C935.4 215.7 937.2 209.2 938.8 204.6C940.3 200.0 941.9 194.4 943.4 190.7C944.9 187.0 946.5 184.6 948.0 182.3C949.5 180.0 951.1 177.8 952.6 176.9C954.1 176.0 955.7 176.5 957.2 176.9C958.7 177.3 960.0 178.7 961.8 179.2C963.6 179.7 966.2 179.1 968.0 180.0C969.8 180.9 971.1 183.1 972.6 184.6C974.1 186.1 975.7 187.8 977.2 189.2C978.7 190.6 980.5 192.2 981.8 193.0C983.1 193.8 983.8 194.6 984.9 194.1C986.0 193.6 987.2 192.5 988.1 189.9C989.0 187.3 989.4 182.6 990.4 178.4C991.4 174.2 992.8 169.6 994.2 164.5C995.6 159.4 997.4 152.5 998.8 147.6C1000.2 142.7 1001.4 138.4 1002.7 135.3C1004.0 132.2 1005.2 131.1 1006.5 129.2C1007.8 127.3 1009.1 125.5 1010.4 123.8C1011.7 122.1 1012.7 120.6 1014.2 119.2C1015.7 117.8 1017.8 117.7 1019.6 115.5C1021.4 113.3 1023.4 109.0 1025.2 106.1C1027.0 103.2 1028.8 100.8 1030.6 98.0C1032.4 95.2 1034.4 91.0 1036.0 89.2C1037.6 87.4 1038.4 87.9 1040.0 87.2C1041.6 86.5 1043.6 86.0 1045.4 85.2C1047.2 84.4 1049.2 83.7 1050.8 82.5C1052.4 81.3 1053.6 80.2 1054.9 77.8C1056.2 75.4 1057.6 71.3 1058.9 68.3C1060.2 65.3 1061.3 62.5 1062.9 59.6C1064.5 56.7 1066.5 53.0 1068.3 50.8C1070.1 48.5 1071.9 47.5 1073.7 46.1C1075.5 44.7 1077.4 43.3 1079.1 42.1C1080.8 40.9 1082.2 38.8 1083.8 38.7C1085.4 38.6 1087.2 40.6 1088.6 41.4C1089.9 42.2 1091.2 42.6 1091.9 43.4C1092.6 44.2 1092.8 45.6 1093.0 46.1" stroke="#ff0000" fill="none" stroke-width="2.08" stroke-linejoin="round" stroke-linecap="butt"/>
<path d="M251.9 381.8C253.1 381.4 256.6 380.1 258.9 379.3C261.2 378.5 263.5 377.7 265.8 376.9C268.1 376.1 270.5 375.4 272.8 374.7C275.1 373.9 277.4 373.1 279.7 372.4C282.0 371.7 284.4 371.0 286.7 370.3C289.0 369.6 291.3 368.9 293.6 368.2C295.9 367.5 298.3 366.9 300.6 366.4C302.9 365.9 305.2 365.4 307.5 365.0C309.8 364.6 312.1 364.5 314.4 364.3C316.7 364.1 319.1 364.0 321.4 363.8C323.7 363.6 326.0 363.2 328.3 362.9C330.6 362.6 333.0 362.4 335.3 362.2C337.6 362.0 339.9 361.6 342.2 361.5C344.5 361.4 346.9 361.3 349.2 361.3C351.5 361.3 353.8 361.3 356.1 361.3C358.4 361.3 360.8 361.4 363.1 361.5C365.4 361.6 367.7 361.8 370.0 361.9C372.3 362.0 374.6 362.1 376.9 362.2C379.2 362.3 381.6 362.5 383.9 362.6C386.2 362.7 388.5 362.8 390.8 362.9C393.1 363.0 394.8 363.0 397.8 363.2C400.8 363.4 404.7 363.7 408.9 364.0C413.1 364.3 418.2 364.6 422.8 365.1C427.4 365.6 432.1 366.5 436.7 367.2C441.3 367.9 446.0 368.4 450.6 369.2C455.2 369.9 459.8 370.8 464.4 371.7C469.0 372.6 473.7 373.5 478.3 374.4C482.9 375.3 487.6 376.1 492.2 376.9C496.8 377.7 501.5 378.6 506.1 379.3C510.7 380.1 515.4 380.9 520.0 381.4C524.6 381.9 529.7 382.3 533.9 382.5C538.1 382.7 542.0 382.4 545.0 382.5C548.0 382.6 549.6 382.8 551.9 382.8C554.2 382.9 556.6 382.9 558.9 382.8C561.2 382.7 563.5 382.6 565.8 382.4C568.1 382.2 570.5 382.0 572.8 381.7C575.1 381.4 577.4 381.1 579.7 380.6C582.0 380.1 584.4 379.5 586.7 378.9C589.0 378.3 591.3 377.8 593.6 377.2C595.9 376.6 598.3 376.0 600.6 375.4C602.9 374.8 605.2 374.1 607.5 373.3C609.8 372.5 612.1 371.6 614.4 370.8C616.7 370.0 619.1 369.2 621.4 368.5C623.7 367.8 626.0 367.1 628.3 366.4C630.6 365.7 633.0 365.0 635.3 364.3C637.6 363.6 639.9 362.9 642.2 362.2C644.5 361.5 646.9 361.0 649.2 360.1C651.5 359.2 653.8 358.1 656.1 357.1C658.4 356.1 660.8 355.2 663.1 354.2C665.4 353.2 667.7 352.0 670.0 351.1C672.3 350.2 674.6 349.4 676.9 348.6C679.2 347.8 681.6 347.1 683.9 346.3C686.2 345.5 688.9 344.5 690.8 343.9C692.6 343.3 693.0 343.5 695.0 342.9C697.0 342.3 700.1 341.1 702.7 340.3C705.3 339.5 707.8 339.0 710.4 338.3C713.0 337.6 715.5 337.0 718.1 336.4C720.7 335.8 723.2 335.2 725.7 334.6C728.2 334.0 730.8 333.3 733.4 332.6C736.0 331.9 738.5 331.2 741.1 330.6C743.7 330.0 746.2 329.4 748.8 328.7C751.4 328.0 753.9 327.4 756.5 326.7C759.1 326.0 761.6 325.3 764.2 324.4C766.8 323.5 769.4 322.5 771.9 321.4C774.4 320.3 777.0 319.0 779.5 317.7C782.0 316.4 784.6 315.0 787.2 313.4C789.8 311.8 792.3 309.8 794.9 308.0C797.5 306.2 800.0 304.6 802.6 302.9C805.2 301.2 807.7 299.6 810.3 298.0C812.9 296.4 815.4 294.7 818.0 293.1C820.6 291.5 823.2 290.0 825.7 288.5C828.2 287.0 830.8 285.8 833.3 284.2C835.8 282.6 838.4 280.6 841.0 278.8C843.6 277.0 846.4 274.9 848.7 273.1C851.0 271.4 853.0 269.9 854.9 268.3C856.8 266.7 858.2 265.5 860.4 263.7C862.6 261.9 865.5 259.8 868.1 257.6C870.7 255.4 873.2 252.9 875.7 250.7C878.2 248.5 880.8 246.4 883.4 244.5C886.0 242.6 888.5 240.8 891.1 239.1C893.7 237.4 896.2 235.6 898.8 234.1C901.4 232.6 903.9 231.1 906.5 229.9C909.1 228.7 911.6 227.7 914.2 226.8C916.8 225.9 919.4 225.3 921.9 224.5C924.4 223.7 927.0 223.1 929.5 222.2C932.0 221.3 934.6 220.2 937.2 219.2C939.8 218.2 942.3 217.0 944.9 216.1C947.5 215.2 950.0 214.4 952.6 213.5C955.2 212.6 957.7 211.7 960.3 210.7C962.9 209.7 965.4 208.4 968.0 207.6C970.6 206.8 973.2 206.7 975.7 206.1C978.2 205.5 980.5 205.0 983.3 203.8C986.1 202.6 989.9 200.4 992.7 198.7C995.6 197.0 997.8 195.1 1000.4 193.4C1003.0 191.7 1005.5 190.0 1008.1 188.4C1010.7 186.8 1013.2 185.2 1015.7 183.7C1018.2 182.1 1020.8 180.8 1023.4 179.1C1026.0 177.4 1028.5 175.7 1031.1 173.8C1033.7 171.9 1036.2 169.8 1038.8 167.9C1041.4 166.0 1043.9 164.3 1046.5 162.2C1049.1 160.1 1051.6 158.0 1054.2 155.3C1056.8 152.6 1059.4 149.4 1061.9 146.1C1064.5 142.8 1067.0 138.9 1069.5 135.3C1072.0 131.7 1074.6 127.8 1077.2 124.6C1079.8 121.4 1082.3 118.5 1084.9 116.1C1087.5 113.7 1091.7 111.2 1093.0 110.2" stroke="#800080" fill="none" stroke-width="2.08" stroke-linejoin="round" stroke-linecap="butt"/>
<path d="M57.5 25.50H1142.5" stroke="#008000" stroke-opacity="0.7" stroke-width="1.39" stroke-dasharray="8.9 2.22 1.39 2.22" fill="none"/>
<path d="M57.5 235.50H1142.5" stroke="#ff0000" stroke-opacity="0.7" stroke-width="1.39" stroke-dasharray="8.9 2.22 1.39 2.22" fill="none"/>
<path d="M1093.50 426.5V9.5" stroke="#ff0000" stroke-opacity="0.7" stroke-width="1.39" stroke-dasharray="5.14 2.22" fill="none"/>
</g>
<path d="M57.5 379.50h-4.86M57.5 313.50h-4.86M57.5 246.50h-4.86M57.5 180.50h-4.86M57.5 113.50h-4.86M57.5 47.50h-4.86M186.50 426.5v4.86M370.50 426.5v4.86M554.50 426.5v4.86M738.50 426.5v4.86M923.50 426.5v4.86M1107.50 426.5v4.86" stroke="#000" stroke-width="1.11" fill="none"/>
<rect x="57.5" y="9.5" width="1085.00" height="417.00" fill="none" stroke="#000" stroke-width="1.11"/>
<text y="384.30" font-size="13.89" ><tspan x="30.72" font-size="12.92" textLength="15.68">50</tspan></text>
<text y="318.30" font-size="13.89" ><tspan x="22.39" font-size="12.92" textLength="24.01">100</tspan></text>
<text y="251.30" font-size="13.89" ><tspan x="22.39" font-size="12.92" textLength="24.01">150</tspan></text>
<text y="185.30" font-size="13.89" ><tspan x="22.39" font-size="12.92" textLength="24.01">200</tspan></text>
<text y="118.30" font-size="13.89" ><tspan x="22.39" font-size="12.92" textLength="24.01">250</tspan></text>
<text y="52.30" font-size="13.89" ><tspan x="22.39" font-size="12.92" textLength="24.01">300</tspan></text>
<rect x="64.5" y="16.4" width="107.8" height="120.1" rx="2.8" ry="2.8" fill="#fff" fill-opacity="0.8" stroke="#ccc" stroke-opacity="0.8" stroke-width="1.11"/>
<path d="M69.1 27.0H97.9" stroke="#000" stroke-width="2.08" fill="none"/>
<path d="M69.1 47.0H97.9" stroke="#008000" stroke-width="2.08" fill="none"/>
<path d="M69.1 67.7H97.9" stroke="#ff0000" stroke-width="2.08" fill="none"/>
<path d="M69.1 86.3H97.9" stroke="#800080" stroke-width="2.08" fill="none"/>
<path d="M84.40 96.00L74.40 116.00L94.40 116.00Z" fill="#008000" stroke="#008000" stroke-width="1"/>
<path d="M84.40 135.70L74.40 115.70L94.40 115.70Z" fill="#ff0000" stroke="#ff0000" stroke-width="1"/>
<text y="31.90" font-size="13.89" ><tspan x="108.90" font-size="12.92" textLength="33.14">Close</tspan></text>
<text y="52.00" font-size="13.89" ><tspan x="108.90" font-size="12.92" textLength="39.00">MA50[</tspan><tspan x="148.87" font-size="13.89">买</tspan><tspan x="162.76" font-size="12.92">]</tspan></text>
<text y="72.70" font-size="13.89" ><tspan x="108.90" font-size="12.92" textLength="39.00">MA25[</tspan><tspan x="148.87" font-size="13.89">卖</tspan><tspan x="162.76" font-size="12.92">]</tspan></text>
<text y="91.80" font-size="13.89" ><tspan x="108.90" font-size="12.92" textLength="43.17">MA200</tspan></text>
<text y="109.90" font-size="13.89" ><tspan x="108.90" font-size="12.92" textLength="20.95" lengthAdjust="spacingAndGlyphs">Buy</tspan></text>
<text y="129.00" font-size="13.89" ><tspan x="108.90" font-size="12.92" textLength="21.76">Sell</tspan></text>
<rect x="946.6" y="320.6" width="178.5" height="89.3" rx="4.6" ry="4.6" fill="#fff" fill-opacity="0.9" stroke="#ff0000" stroke-opacity="0.85" stroke-width="1.39"/>
<text y="337.00" font-size="15.28" fill="#ff0000" ><tspan x="968.67" font-size="14.44" textLength="151.63">287.55 (-1.75 -0.60%)</tspan></text>
<text y="353.00" font-size="15.28" fill="#ff0000" ><tspan x="1011.42" font-size="14.44" textLength="108.88">158.70~316.51</tspan></text>
<text y="368.80" font-size="15.28" fill="#ff0000" ><tspan x="954.32" font-size="14.44" textLength="165.98">301.09/300.83/252.07</tspan></text>
<text y="384.50" font-size="15.28" fill="#ff0000" ><tspan x="993.10" font-size="14.44" textLength="127.20">2025-12-03 05:00</tspan></text>
<text y="402.70" font-size="15.28" fill="#ff0000" ><tspan x="952.47" font-size="14.44" textLength="43.52">-1.24/</tspan><tspan x="997.06" font-size="15.28">偏空</tspan><tspan x="1027.62" font-size="14.44" textLength="92.68">/+0.39/-0.02</tspan></text>
<path d="M186.50 440.5V579.5M370.50 440.5V579.5M554.50 440.5V579.5M738.50 440.5V579.5M923.50 440.5V579.5M1107.50 440.5V579.5M57.5 539.50H1142.5M57.5 498.50H1142.5M57.5 457.50H1142.5" stroke="#b0b0b0" stroke-width="1.11" fill="none"/>
<path d="M106 579.5v-22.0M107 579.5v-22.6M108 579.5v-28.0M122 579.5v-12.9M124 579.5v-64.4M125 579.5v-9.4M127 579.5v-13.2M128 579.5v-26.6M129 579.5v-30.0M131 579.5v-12.6M132 579.5v-21.6M133 579.5v-33.0M135 579.5v-8.6M136 579.5v-8.2M138 579.5v-27.3M139 579.5v-28.8M140 579.5v-12.4M142 579.5v-8.0M143 579.5v-26.6M145 579.5v-10.7M146 579.5v-25.6M147 579.5v-15.7M149 579.5v-22.4M150 579.5v-8.4M152 579.5v-20.9M153 579.5v-34.0M154 579.5v-11.0M156 579.5v-23.2M157 579.5v-22.6M159 579.5v-34.0M160 579.5v-8.8M161 579.5v-10.9M163 579.5v-13.2M164 579.5v-10.7M166 579.5v-8.2M178 579.5v-5.0M180 579.5v-14.8M181 579.5v-21.3M182 579.5v-4.0M184 579.5v-10.2M185 579.5v-15.9M186 579.5v-4.0M188 579.5v-18.9M189 579.5v-4.2M191 579.5v-11.1M192 579.5v-9.9M193 579.5v-11.9M195 579.5v-5.6M196 579.5v-7.3M198 579.5v-10.7M199 579.5v-7.4M200 579.5v-32.0M202 579.5v-7.7M203 579.5v-7.6M205 579.5v-25.0M206 579.5v-11.7M207 579.5v-8.6M209 579.5v-4.9M210 579.5v-16.2M212 579.5v-16.7M213 579.5v-8.0M214 579.5v-4.5M216 579.5v-8.2M217 579.5v-4.2M218 579.5v-36.0M219 579.5v-34.0M220 579.5v-7.4M221 579.5v-33.0M223 579.5v-32.0M224 579.5v-9.0M226 579.5v-4.0M227 579.5v-12.1M238 579.5v-6.1M239 579.5v-13.1M241 579.5v-14.1M242 579.5v-9.2M244 579.5v-6.0M245 579.5v-9.1M246 579.5v-7.6M248 579.5v-18.5M249 579.5v-6.2M251 579.5v-16.0M252 579.5v-19.9M253 579.5v-13.0M255 579.5v-14.9M256 579.5v-6.4M258 579.5v-19.4M259 579.5v-8.9M260 579.5v-18.7M262 579.5v-17.5M263 579.5v-6.3M265 579.5v-14.3M266 579.5v-18.0M267 579.5v-6.0M269 579.5v-7.4M270 579.5v-24.3M272 579.5v-6.2M273 579.5v-17.0M274 579.5v-6.8M276 579.5v-14.9M277 579.5v-6.2M279 579.5v-9.1M280 579.5v-22.4M281 579.5v-6.4M283 579.5v-6.7M284 579.5v-9.1M297 579.5v-7.6M298 579.5v-6.0M299 579.5v-6.5M301 579.5v-6.4M302 579.5v-23.3M304 579.5v-14.6M305 579.5v-21.7M306 579.5v-29.0M308 579.5v-17.7M309 579.5v-6.2M311 579.5v-11.0M312 579.5v-13.4M313 579.5v-8.1M315 579.5v-20.8M316 579.5v-11.5M318 579.5v-12.0M319 579.5v-21.2M320 579.5v-6.1M322 579.5v-30.0M323 579.5v-13.2M325 579.5v-8.6M326 579.5v-18.2M327 579.5v-7.1M329 579.5v-25.6M330 579.5v-12.0M332 579.5v-8.1M333 579.5v-17.1M334 579.5v-9.3M336 579.5v-6.4M337 579.5v-29.0M339 579.5v-6.0M340 579.5v-18.9M341 579.5v-7.0M342 579.5v-21.0M354 579.5v-33.0M355 579.5v-27.0M357 579.5v-16.0M358 579.5v-18.6M359 579.5v-10.0M361 579.5v-8.0M362 579.5v-8.0M364 579.5v-8.4M365 579.5v-17.0M366 579.5v-12.1M368 579.5v-14.0M369 579.5v-28.4M371 579.5v-8.3M372 579.5v-9.0M373 579.5v-18.2M375 579.5v-8.0M376 579.5v-8.0M378 579.5v-10.7M379 579.5v-8.2M380 579.5v-10.7M382 579.5v-132.0M383 579.5v-40.0M385 579.5v-16.1M386 579.5v-8.8M387 579.5v-37.0M389 579.5v-13.1M390 579.5v-8.3M392 579.5v-30.5M393 579.5v-9.2M394 579.5v-73.0M396 579.5v-8.1M397 579.5v-65.0M399 579.5v-27.2M400 579.5v-23.1M414 579.5v-15.5M415 579.5v-13.4M417 579.5v-12.0M418 579.5v-21.9M419 579.5v-19.3M421 579.5v-14.6M422 579.5v-21.9M424 579.5v-16.4M425 579.5v-34.5M426 579.5v-25.1M428 579.5v-130.0M429 579.5v-60.0M431 579.5v-72.0M432 579.5v-18.5M433 579.5v-15.6M435 579.5v-13.1M436 579.5v-12.1M438 579.5v-27.0M439 579.5v-12.0M440 579.5v-58.0M442 579.5v-34.7M443 579.5v-12.4M445 579.5v-12.7M446 579.5v-20.7M447 579.5v-17.8M449 579.5v-21.8M450 579.5v-28.5M452 579.5v-49.0M453 579.5v-14.0M454 579.5v-13.8M456 579.5v-12.0M457 579.5v-45.0M458 579.5v-27.2M460 579.5v-24.4M472 579.5v-35.0M474 579.5v-80.0M475 579.5v-22.6M476 579.5v-61.0M477 579.5v-14.5M478 579.5v-50.0M479 579.5v-14.2M481 579.5v-10.9M482 579.5v-42.5M484 579.5v-11.0M485 579.5v-10.0M486 579.5v-12.2M488 579.5v-22.7M489 579.5v-20.8M491 579.5v-26.6M492 579.5v-21.4M493 579.5v-11.3M495 579.5v-16.5M496 579.5v-13.9M498 579.5v-24.2M499 579.5v-35.0M500 579.5v-11.3M501 579.5v-59.0M502 579.5v-19.1M503 579.5v-32.2M505 579.5v-34.0M506 579.5v-28.1M507 579.5v-10.0M509 579.5v-11.2M510 579.5v-11.0M511 579.5v-22.5M513 579.5v-31.2M514 579.5v-22.6M516 579.5v-12.1M517 579.5v-34.0M518 579.5v-12.1M528 579.5v-45.0M530 579.5v-24.5M531 579.5v-16.5M532 579.5v-18.0M534 579.5v-17.3M535 579.5v-27.2M537 579.5v-13.4M538 579.5v-22.3M539 579.5v-18.2M541 579.5v-22.8M542 579.5v-12.9M544 579.5v-18.9M545 579.5v-15.2M546 579.5v-11.3M548 579.5v-26.0M549 579.5v-16.3M551 579.5v-10.1M552 579.5v-24.7M553 579.5v-10.3M555 579.5v-10.0M556 579.5v-39.0M558 579.5v-25.3M559 579.5v-11.7M560 579.5v-10.2M562 579.5v-10.0M563 579.5v-38.0M564 579.5v-18.0M566 579.5v-59.0M567 579.5v-28.0M569 579.5v-19.2M570 579.5v-10.0M571 579.5v-15.6M573 579.5v-11.9M574 579.5v-21.6M587 579.5v-18.3M588 579.5v-20.4M589 579.5v-96.0M590 579.5v-52.0M591 579.5v-19.7M592 579.5v-47.0M594 579.5v-22.1M595 579.5v-8.1M596 579.5v-28.0M597 579.5v-8.5M598 579.5v-8.1M599 579.5v-8.0M601 579.5v-19.1M602 579.5v-18.1M604 579.5v-13.9M605 579.5v-18.5M606 579.5v-13.8M608 579.5v-9.0M609 579.5v-8.1M611 579.5v-8.1M612 579.5v-16.7M613 579.5v-8.5M615 579.5v-9.3M616 579.5v-10.4M617 579.5v-8.0M619 579.5v-8.8M620 579.5v-9.0M622 579.5v-15.7M623 579.5v-9.8M624 579.5v-9.3M626 579.5v-22.8M627 579.5v-11.5M629 579.5v-19.2M630 579.5v-13.6M631 579.5v-8.0M633 579.5v-29.0M634 579.5v-10.6M648 579.5v-8.7M650 579.5v-4.0M651 579.5v-7.6M652 579.5v-5.6M654 579.5v-3.3M655 579.5v-10.2M657 579.5v-3.1M658 579.5v-20.0M659 579.5v-3.2M661 579.5v-3.0M662 579.5v-3.3M664 579.5v-8.5M665 579.5v-12.5M666 579.5v-3.0M668 579.5v-5.1M669 579.5v-5.1M670 579.5v-9.1M672 579.5v-3.2M673 579.5v-5.1M675 579.5v-4.0M676 579.5v-9.7M677 579.5v-3.5M679 579.5v-11.8M680 579.5v-3.6M682 579.5v-3.3M683 579.5v-7.6M684 579.5v-5.2M686 579.5v-3.1M687 579.5v-6.7M689 579.5v-3.0M690 579.5v-8.9M691 579.5v-7.5M693 579.5v-8.9M707 579.5v-7.3M708 579.5v-18.0M710 579.5v-4.6M711 579.5v-4.6M712 579.5v-12.3M714 579.5v-3.1M715 579.5v-12.3M717 579.5v-3.0M718 579.5v-3.4M719 579.5v-3.6M721 579.5v-12.5M722 579.5v-21.0M723 579.5v-4.4M725 579.5v-12.1M726 579.5v-3.5M728 579.5v-5.2M729 579.5v-17.0M730 579.5v-9.5M732 579.5v-9.4M733 579.5v-7.6M735 579.5v-4.2M736 579.5v-4.0M737 579.5v-3.2M739 579.5v-11.2M740 579.5v-7.8M742 579.5v-9.2M743 579.5v-3.2M744 579.5v-5.0M746 579.5v-9.8M747 579.5v-6.6M749 579.5v-22.4M750 579.5v-5.2M764 579.5v-20.0M765 579.5v-7.7M767 579.5v-7.4M768 579.5v-8.2M770 579.5v-14.8M771 579.5v-73.0M772 579.5v-7.3M773 579.5v-54.0M774 579.5v-7.3M775 579.5v-28.0M776 579.5v-8.4M778 579.5v-11.1M779 579.5v-7.3M781 579.5v-8.5M782 579.5v-7.4M783 579.5v-23.1M785 579.5v-43.0M786 579.5v-36.5M788 579.5v-22.6M789 579.5v-7.1M790 579.5v-9.1M792 579.5v-23.4M793 579.5v-17.3M795 579.5v-45.0M796 579.5v-9.7M797 579.5v-7.5M799 579.5v-13.3M800 579.5v-7.1M802 579.5v-7.5M803 579.5v-9.1M804 579.5v-7.0M806 579.5v-9.3M807 579.5v-17.1M809 579.5v-14.6M810 579.5v-10.7M811 579.5v-25.0M823 579.5v-25.0M824 579.5v-5.2M825 579.5v-9.6M827 579.5v-20.7M828 579.5v-12.2M829 579.5v-16.3M831 579.5v-7.2M832 579.5v-9.1M834 579.5v-12.4M835 579.5v-7.1M836 579.5v-5.5M838 579.5v-11.8M839 579.5v-15.6M841 579.5v-13.0M842 579.5v-34.0M843 579.5v-14.9M845 579.5v-11.0M846 579.5v-33.0M848 579.5v-7.5M849 579.5v-6.1M850 579.5v-10.0M852 579.5v-5.1M853 579.5v-7.1M855 579.5v-13.2M856 579.5v-11.7M857 579.5v-10.1M859 579.5v-5.7M860 579.5v-7.1M862 579.5v-7.5M863 579.5v-9.9M864 579.5v-7.0M866 579.5v-10.9M867 579.5v-26.7M881 579.5v-6.3M883 579.5v-11.1M884 579.5v-13.5M885 579.5v-7.6M887 579.5v-43.0M888 579.5v-18.3M889 579.5v-6.0M891 579.5v-9.4M892 579.5v-6.2M894 579.5v-13.6M895 579.5v-17.4M896 579.5v-9.1M898 579.5v-6.1M899 579.5v-9.8M901 579.5v-9.4M902 579.5v-12.3M903 579.5v-9.0M905 579.5v-10.9M906 579.5v-14.6M908 579.5v-9.1M909 579.5v-7.8M910 579.5v-25.0M912 579.5v-21.0M913 579.5v-11.6M915 579.5v-7.7M916 579.5v-17.0M917 579.5v-6.1M919 579.5v-18.6M920 579.5v-7.3M922 579.5v-6.0M923 579.5v-6.8M937 579.5v-10.1M938 579.5v-8.0M940 579.5v-10.4M941 579.5v-10.4M942 579.5v-15.3M944 579.5v-9.6M945 579.5v-8.9M947 579.5v-8.6M948 579.5v-16.3M949 579.5v-22.0M951 579.5v-11.9M952 579.5v-8.6M954 579.5v-25.0M955 579.5v-10.0M956 579.5v-8.5M957 579.5v-25.0M958 579.5v-8.2M959 579.5v-17.2M961 579.5v-18.1M962 579.5v-13.9M963 579.5v-11.0M965 579.5v-12.5M966 579.5v-8.6M968 579.5v-22.8M969 579.5v-9.6M970 579.5v-55.0M972 579.5v-61.0M973 579.5v-41.0M974 579.5v-28.0M975 579.5v-11.0M976 579.5v-9.1M977 579.5v-12.3M979 579.5v-29.0M980 579.5v-18.7M982 579.5v-9.6M983 579.5v-19.2M984 579.5v-8.9M986 579.5v-9.9M998 579.5v-6.6M1000 579.5v-8.0M1001 579.5v-6.3M1002 579.5v-6.0M1004 579.5v-12.3M1005 579.5v-6.8M1007 579.5v-6.6M1008 579.5v-6.9M1009 579.5v-8.6M1011 579.5v-21.4M1012 579.5v-31.0M1014 579.5v-11.2M1015 579.5v-7.4M1016 579.5v-17.0M1018 579.5v-15.2M1019 579.5v-6.0M1021 579.5v-24.0M1022 579.5v-47.0M1023 579.5v-13.6M1025 579.5v-6.2M1026 579.5v-14.7M1028 579.5v-10.8M1029 579.5v-6.0M1030 579.5v-6.0M1032 579.5v-17.7M1033 579.5v-11.1M1035 579.5v-6.6M1036 579.5v-6.1M1037 579.5v-6.2M1039 579.5v-6.5M1040 579.5v-13.4M1042 579.5v-7.3M1043 579.5v-6.2M1044 579.5v-16.4M1057 579.5v-14.4M1058 579.5v-6.3M1060 579.5v-16.9M1061 579.5v-10.7M1062 579.5v-14.1M1064 579.5v-11.8M1065 579.5v-16.9M1067 579.5v-14.3M1068 579.5v-15.5M1069 579.5v-6.4M1071 579.5v-12.2M1072 579.5v-9.5M1073 579.5v-20.0M1074 579.5v-13.3M1075 579.5v-8.3M1076 579.5v-16.6M1077 579.5v-20.0M1078 579.5v-9.8M1079 579.5v-6.8M1081 579.5v-21.0M1082 579.5v-6.2M1083 579.5v-9.0M1085 579.5v-6.0M1086 579.5v-26.0M1088 579.5v-6.2M1089 579.5v-8.9M1090 579.5v-9.0M1092 579.5v-9.6" stroke="#c0c0c0" stroke-width="1" fill="none" clip-path="url(#c2)" transform="translate(0.5 0)"/>
<path d="M57.5 579.50h-4.86M57.5 539.50h-4.86M57.5 498.50h-4.86M57.5 457.50h-4.86M186.50 579.5v4.86M370.50 579.5v4.86M554.50 579.5v4.86M738.50 579.5v4.86M923.50 579.5v4.86M1107.50 579.5v4.86" stroke="#000" stroke-width="1.11" fill="none"/>
<rect x="57.5" y="440.5" width="1085.00" height="139.00" fill="none" stroke="#000" stroke-width="1.11"/>
<text y="584.30" font-size="13.89" ><tspan x="26.55" font-size="12.92" textLength="19.85">0.0</tspan></text>
<text y="544.30" font-size="13.89" ><tspan x="26.55" font-size="12.92" textLength="19.85">0.5</tspan></text>
<text y="503.30" font-size="13.89" ><tspan x="26.55" font-size="12.92" textLength="19.85">1.0</tspan></text>
<text y="462.30" font-size="13.89" ><tspan x="26.55" font-size="12.92" textLength="19.85">1.5</tspan></text>
<text y="599.60" font-size="13.89" ><tspan x="160.03" font-size="12.92" textLength="53.16">2021-01</tspan></text>
<text y="599.60" font-size="13.89" ><tspan x="344.03" font-size="12.92" textLength="53.16">2022-01</tspan></text>
<text y="599.60" font-size="13.89" ><tspan x="528.03" font-size="12.92" textLength="53.16">2023-01</tspan></text>
<text y="599.60" font-size="13.89" ><tspan x="712.03" font-size="12.92" textLength="53.16">2024-01</tspan></text>
<text y="599.60" font-size="13.89" ><tspan x="897.03" font-size="12.92" textLength="53.16">2025-01</tspan></text>
<text y="599.60" font-size="13.89" ><tspan x="1081.03" font-size="12.92" textLength="53.16">2026-01</tspan></text>
<text y="436.80" font-size="13.89" ><tspan x="57.60" font-size="12.92" textLength="23.17">1e6</tspan></text>
<text transform="translate(18.6 512.2) rotate(-90)" font-size="12.92" text-anchor="middle" textLength="43.94">Volume</text>
<text y="635.60" font-size="16.67" ><tspan x="57.20" y="635.60" font-size="17.17" textLength="19.15" lengthAdjust="spacingAndGlyphs">GE</tspan> <tspan x="82.51" y="636.00" font-size="16.67">交易次数</tspan><tspan x="149.19" y="635.60" font-size="17.17" textLength="18.82" lengthAdjust="spacingAndGlyphs">: 7</tspan></text>
<text y="654.70" font-size="16.67" ><tspan x="57.20" y="655.10" font-size="16.67">策略总收益率</tspan><tspan x="157.22" y="654.70" font-size="17.17" textLength="75.46" lengthAdjust="spacingAndGlyphs">: 627.86%</tspan></text>
<text y="674.00" font-size="16.67" ><tspan x="57.20" y="674.40" font-size="16.67">长期持有收益</tspan><tspan x="157.22" y="674.00" font-size="17.17" textLength="75.46" lengthAdjust="spacingAndGlyphs">: 859.78%</tspan></text>
<text y="694.20" font-size="16.67" ><tspan x="57.20" y="694.60" font-size="16.67">交易记录</tspan><tspan x="123.88" y="694.20" font-size="17.17">:</tspan></text>
<text y="711.10" font-size="16.67" >  <tspan x="67.20" y="711.10" font-size="17.17" textLength="64.42" lengthAdjust="spacingAndGlyphs">Buy Date</tspan>  <tspan x="142.78" y="711.10" font-size="17.17" textLength="65.76" lengthAdjust="spacingAndGlyphs">Buy Price</tspan>  <tspan x="219.70" y="711.10" font-size="17.17" textLength="65.40" lengthAdjust="spacingAndGlyphs">Sell Date</tspan>  <tspan x="296.26" y="711.10" font-size="17.17" textLength="66.73" lengthAdjust="spacingAndGlyphs">Sell Price</tspan>  <tspan x="374.16" y="711.10" font-size="17.17" textLength="93.73" lengthAdjust="spacingAndGlyphs">Holding Days</tspan>  <tspan x="479.05" y="711.10" font-size="17.17" textLength="53.43" lengthAdjust="spacingAndGlyphs">Profit %</tspan></text>
<text y="728.40" font-size="16.67" ><tspan x="57.20" y="728.40" font-size="17.17" textLength="88.79">2020-10-06</tspan>      <tspan x="177.15" y="728.40" font-size="17.17" textLength="138.77">29.96 2020-12-28</tspan>       <tspan x="352.07" y="728.40" font-size="17.17" textLength="43.81">51.69</tspan>            <tspan x="457.02" y="728.40" font-size="17.17" textLength="18.82" lengthAdjust="spacingAndGlyphs">83</tspan>     <tspan x="502.00" y="728.40" font-size="17.17" textLength="43.81">72.53</tspan></text>
<text y="746.20" font-size="16.67" ><tspan x="57.20" y="746.20" font-size="17.17" textLength="88.79">2021-01-29</tspan>      <tspan x="177.15" y="746.20" font-size="17.17" textLength="138.77">51.86 2021-03-25</tspan>       <tspan x="352.07" y="746.20" font-size="17.17" textLength="43.81">62.44</tspan>            <tspan x="457.02" y="746.20" font-size="17.17" textLength="18.82" lengthAdjust="spacingAndGlyphs">54</tspan>     <tspan x="502.00" y="746.20" font-size="17.17" textLength="43.81">20.40</tspan></text>
<text y="763.80" font-size="16.67" ><tspan x="57.20" y="763.80" font-size="17.17" textLength="88.79">2021-04-30</tspan>      <tspan x="177.15" y="763.80" font-size="17.17" textLength="138.77">63.80 2023-06-20</tspan>       <tspan x="352.07" y="763.80" font-size="17.17" textLength="43.81">81.86</tspan>           <tspan x="452.03" y="763.80" font-size="17.17" textLength="28.82">781</tspan>     <tspan x="507.00" y="763.80" font-size="17.17" textLength="43.81">28.31</tspan></text>
<text y="780.80" font-size="16.67" ><tspan x="57.20" y="780.80" font-size="17.17" textLength="88.79">2023-09-07</tspan>      <tspan x="177.15" y="780.80" font-size="17.17" textLength="138.77">88.06 2024-05-13</tspan>      <tspan x="347.07" y="780.80" font-size="17.17" textLength="53.81">158.00</tspan>           <tspan x="457.02" y="780.80" font-size="17.17" textLength="28.82">249</tspan>     <tspan x="512.00" y="780.80" font-size="17.17" textLength="43.81">79.42</tspan></text>
<text y="798.30" font-size="16.67" ><tspan x="57.20" y="798.30" font-size="17.17" textLength="88.79">2024-06-13</tspan>     <tspan x="172.15" y="798.30" font-size="17.17" textLength="148.77">154.23 2025-02-21</tspan>      <tspan x="352.07" y="798.30" font-size="17.17" textLength="53.81">198.98</tspan>           <tspan x="462.02" y="798.30" font-size="17.17" textLength="28.82">253</tspan>     <tspan x="517.00" y="798.30" font-size="17.17" textLength="43.81">29.02</tspan></text>
<text y="815.90" font-size="16.67" ><tspan x="57.20" y="815.90" font-size="17.17" textLength="88.79">2025-03-10</tspan>     <tspan x="172.15" y="815.90" font-size="17.17" textLength="148.77">191.61 2025-06-13</tspan>      <tspan x="352.07" y="815.90" font-size="17.17" textLength="53.81">235.85</tspan>            <tspan x="467.02" y="815.90" font-size="17.17" textLength="18.82" lengthAdjust="spacingAndGlyphs">95</tspan>     <tspan x="512.00" y="815.90" font-size="17.17" textLength="43.81">23.09</tspan></text>
<text y="833.85" font-size="16.67" ><tspan x="57.20" y="833.85" font-size="17.17" textLength="88.79">2025-11-17</tspan>     <tspan x="172.15" y="833.85" font-size="17.17" textLength="148.77">300.04 2025-12-03</tspan>      <tspan x="352.07" y="833.85" font-size="17.17" textLength="53.81">287.55</tspan>            <tspan x="467.02" y="833.85" font-size="17.17" textLength="18.82" lengthAdjust="spacingAndGlyphs">16</tspan>     <tspan x="512.00" y="833.85" font-size="17.17" textLength="38.82" lengthAdjust="spacingAndGlyphs">-4.16</tspan></text>
</svg>
</body></html>
